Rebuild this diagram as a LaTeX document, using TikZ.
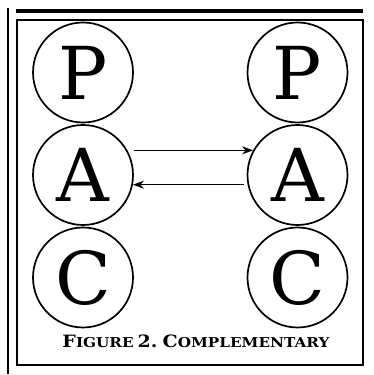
\documentclass[tikz,border=0pt]{standalone}
\usepackage{fontspec}
\setmainfont{DejaVu Serif}
\newfontfamily\capfont[FakeStretch=1.12]{DejaVu Serif}
\usepackage{tikz}
\usetikzlibrary{arrows.meta,positioning,calc}

\newcommand{\capbig}{\fontsize{17}{17}\selectfont}
\newcommand{\capsmall}{\fontsize{13.6}{13.6}\selectfont}

\tikzset{
    pac/.style={draw, circle, line width=1.7pt, minimum size=100pt, inner sep=0pt, font=\fontsize{73}{73}\selectfont},
    msg/.style={-{Stealth[length=11pt, width=8pt]}, line width=1.4pt},
}

\begin{document}
\begin{tikzpicture}[x=1pt, y=1pt, node distance=102.5pt]
    \useasboundingbox (0,0) rectangle (373,375);
    % frame
    \draw [line width=2.5pt] (8,1) -- (8,366.5);
    \draw [line width=3.5pt] (16,364) -- (363,364);
    \draw [line width=1.7pt] (16.7,10) rectangle (363.2,355.2);
    % left side
    \node [pac] at (83,302.5) (pl) {P};
    \node [pac, below of=pl] (al) {A};
    \node [pac, below of=al] (cl) {C};
    % right side
    \node [pac, right of=pl, node distance=214.5pt] (pr) {P};
    \node [pac, below of=pr] (ar) {A};
    \node [pac, below of=ar] (cr) {C};
    % messages
    \draw [msg] (al.east |- ar.151) -- (ar.151);
    \draw [msg] ([xshift=-3pt]ar.west |- al.349) -- (al.349);
    \node at (196,34) (cap) {\capfont\bfseries{\capbig F}{\capsmall IGURE} {\capbig 2.} {\capbig C}{\capsmall OMPLEMENTARY}};
\end{tikzpicture}
\end{document}
